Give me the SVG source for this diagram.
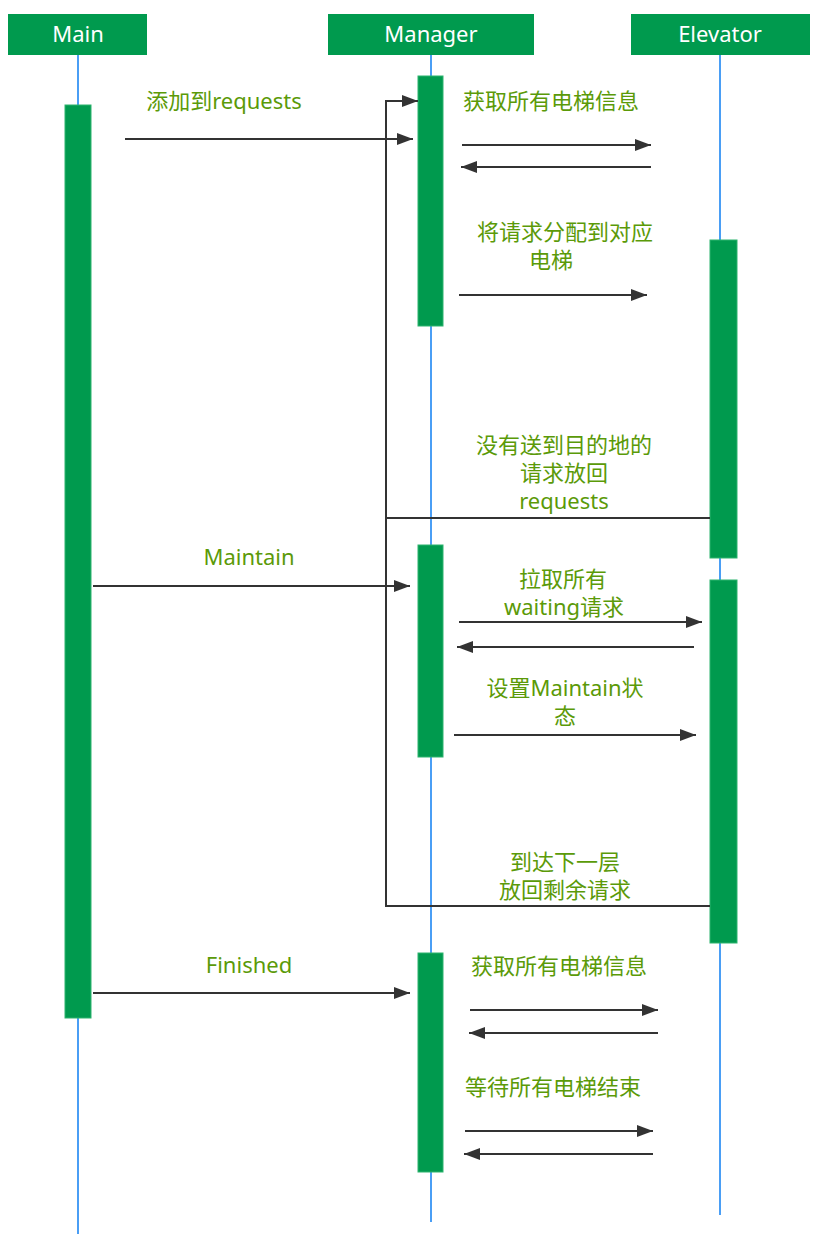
<svg xmlns="http://www.w3.org/2000/svg" width="822" height="1252" viewBox="0 0 822 1252">
<defs>
<marker id="ah" viewBox="0 0 16 12" refX="16" refY="6" markerWidth="16" markerHeight="12" markerUnits="userSpaceOnUse" orient="auto">
<path d="M0,0 L16,6 L0,12 Z" fill="#333333"/>
</marker>
<style>
.hdr{fill:#009A4E;}
.hdrt{fill:#ffffff;font-family:"Noto Sans","Noto Sans CJK SC",sans-serif;font-size:22px;text-anchor:middle;}
.life{stroke:#4A9EF5;stroke-width:2;fill:none;}
.bar{fill:#009A4E;stroke:#2DB36E;stroke-width:1;}
.msg{stroke:#333333;stroke-width:2;fill:none;}
.arr{marker-end:url(#ah);}
.lbl{fill:#5B9A08;font-family:"Noto Sans","Noto Sans CJK SC",sans-serif;font-size:22px;text-anchor:middle;}
</style>
</defs>
<rect width="822" height="1252" fill="#ffffff"/>
<g id="lifelines">
<line class="life" x1="78" y1="55" x2="78" y2="1234"/>
<line class="life" x1="431" y1="55" x2="431" y2="1222"/>
<line class="life" x1="720" y1="55" x2="720" y2="1215"/>
</g>
<g id="node-main">
<rect class="hdr" x="8" y="14" width="139" height="41"/>
<text class="hdrt" x="78" y="42">Main</text>
<rect class="bar" x="65" y="105" width="26" height="913"/>
</g>
<g id="node-manager">
<rect class="hdr" x="328" y="14" width="206" height="41"/>
<text class="hdrt" x="431" y="42">Manager</text>
<rect class="bar" x="418" y="76" width="25" height="250"/>
<rect class="bar" x="418" y="545" width="25" height="212"/>
<rect class="bar" x="418" y="953" width="25" height="219"/>
</g>
<g id="node-elevator">
<rect class="hdr" x="631" y="14" width="179" height="41"/>
<text class="hdrt" x="720" y="42">Elevator</text>
<rect class="bar" x="710" y="240" width="27" height="318"/>
<rect class="bar" x="710" y="580" width="27" height="363"/>
</g>
<g id="connectors">
<line class="msg arr" x1="125" y1="139" x2="413" y2="139"/>
<polyline class="msg arr" points="710,518 386,518 386,101 418,101"/>
<polyline class="msg" points="710,906 386,906 386,518"/>
<line class="msg arr" x1="462" y1="145" x2="651" y2="145"/>
<line class="msg arr" x1="651" y1="167" x2="461" y2="167"/>
<line class="msg arr" x1="459" y1="295" x2="647" y2="295"/>
<line class="msg arr" x1="93" y1="586" x2="410" y2="586"/>
<line class="msg arr" x1="459" y1="622" x2="702" y2="622"/>
<line class="msg arr" x1="694" y1="647" x2="457" y2="647"/>
<line class="msg arr" x1="454" y1="735" x2="696" y2="735"/>
<line class="msg arr" x1="93" y1="993" x2="410" y2="993"/>
<line class="msg arr" x1="470" y1="1010" x2="658" y2="1010"/>
<line class="msg arr" x1="658" y1="1033" x2="469" y2="1033"/>
<line class="msg arr" x1="465" y1="1131" x2="653" y2="1131"/>
<line class="msg arr" x1="653" y1="1154" x2="464" y2="1154"/>
</g>
<g id="labels">
<text class="lbl" x="224" y="109">添加到requests</text>
<text class="lbl" x="551" y="109">获取所有电梯信息</text>
<text class="lbl" x="565" y="240">将请求分配到对应</text>
<text class="lbl" x="551" y="268">电梯</text>
<text class="lbl" x="564" y="453">没有送到目的地的</text>
<text class="lbl" x="564" y="481">请求放回</text>
<text class="lbl" x="564" y="509">requests</text>
<text class="lbl" x="249" y="565">Maintain</text>
<text class="lbl" x="563" y="587">拉取所有</text>
<text class="lbl" x="564" y="615">waiting请求</text>
<text class="lbl" x="565" y="696">设置Maintain状</text>
<text class="lbl" x="565" y="724">态</text>
<text class="lbl" x="565" y="870">到达下一层</text>
<text class="lbl" x="565" y="898">放回剩余请求</text>
<text class="lbl" x="249" y="973">Finished</text>
<text class="lbl" x="559" y="974">获取所有电梯信息</text>
<text class="lbl" x="553" y="1095">等待所有电梯结束</text>
</g>
</svg>
